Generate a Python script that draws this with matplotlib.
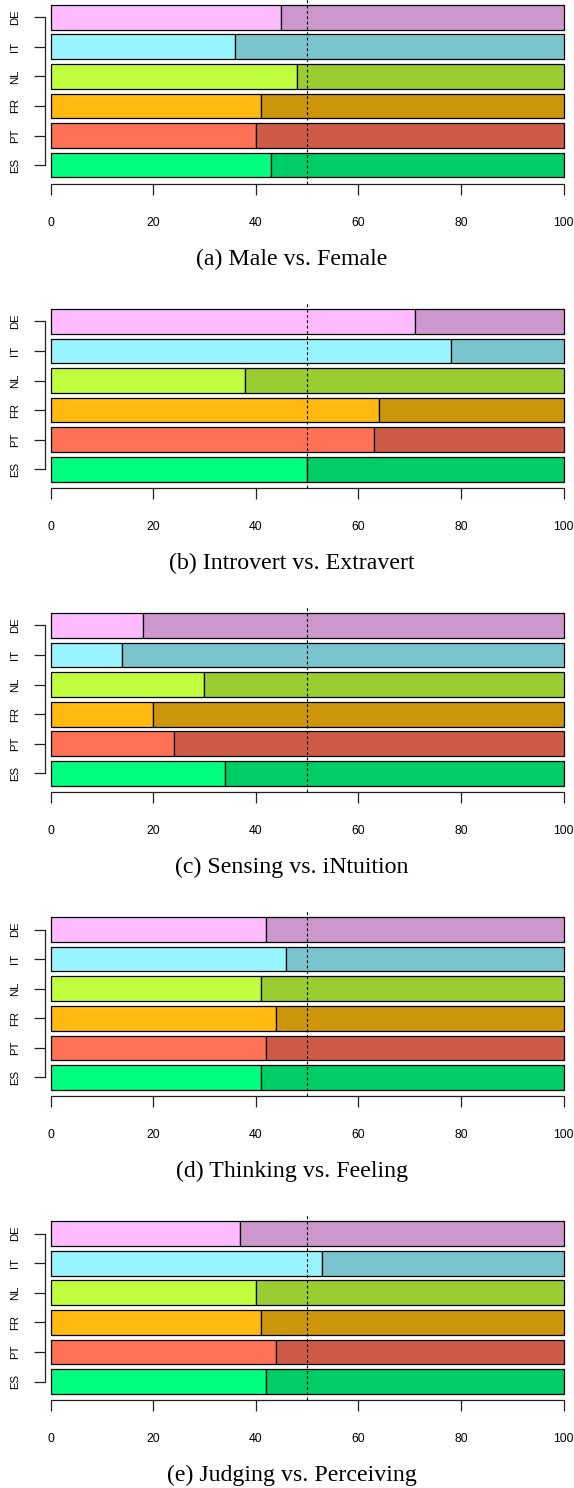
from matplotlib import pyplot as plt

# countries bottom to top, as in the barplot
COUNTRIES = ['ES', 'PT', 'FR', 'NL', 'IT', 'DE']

# share (%) of the first trait of each pair, per country
MALE = [43, 40, 41, 48, 36, 45]
INTROVERT = [50, 63, 64, 38, 78, 71]
SENSING = [34, 24, 20, 30, 14, 18]
THINKING = [41, 42, 44, 41, 46, 42]
JUDGING = [42, 44, 41, 40, 53, 37]

CAPTIONS = ['(a) Male vs. Female',
            '(b) Introvert vs. Extravert',
            '(c) Sensing vs. iNtuition',
            '(d) Thinking vs. Feeling',
            '(e) Judging vs. Perceiving']

X_TICKS = [0, 20, 40, 60, 80, 100]

LEFT_COLORS = ['#00FF7F', '#FF7256', '#FFB90F', '#C0FF3E', '#98F5FF', '#FFBBFF']
RIGHT_COLORS = ['#00CD66', '#CD5B45', '#CD950C', '#9ACD32', '#7AC5CD', '#CD96CD']

FIG_W, FIG_H = 574, 1488
DPI = 100

# pixel layout
AX_LEFT = 50.5
AX_RIGHT = 563.5
AX_HEIGHT = 186.4
FIRST_AXIS_Y = 184.0
PANEL_PITCH = 304.1
CAPTION_OFFSET = 75
CAPTION_X = 292

BAR_SPACE = 0.2


def draw_panel(fig, axis_y, values, caption):
    ax = fig.add_axes([AX_LEFT / FIG_W, 1 - axis_y / FIG_H,
                       (AX_RIGHT - AX_LEFT) / FIG_W, AX_HEIGHT / FIG_H])

    centers = [BAR_SPACE + 0.5 + i * (1 + BAR_SPACE) for i in range(len(COUNTRIES))]
    rest = [100 - v for v in values]

    ax.barh(centers, values, height=1.0, color=LEFT_COLORS,
            edgecolor='black', linewidth=0.9, clip_on=False, zorder=2)
    ax.barh(centers, rest, left=values, height=1.0, color=RIGHT_COLORS,
            edgecolor='black', linewidth=0.9, clip_on=False, zorder=2)

    ax.axvline(50, color='black', linewidth=0.8, linestyle=(0, (2.6, 2.2)), zorder=3)

    ax.set_xlim(0, 100)
    ax.set_ylim(-0.064, 7.496)

    ax.spines['top'].set_visible(False)
    ax.spines['right'].set_visible(False)
    ax.spines['left'].set_position(('outward', 5.5 * 72 / DPI))
    ax.spines['left'].set_bounds(centers[0], centers[-1])
    ax.spines['bottom'].set_bounds(0, 100)
    for side in ['left', 'bottom']:
        ax.spines[side].set_linewidth(0.9)
        ax.spines[side].set_color('#222222')

    ax.set_xticks(X_TICKS)
    ax.set_xticklabels([str(t) for t in X_TICKS], family='Liberation Sans', fontsize=8.8)
    ax.tick_params(axis='x', direction='out', length=8, width=0.9, pad=15.5, colors='#222222')
    for lab in ax.get_xticklabels():
        lab.set_color('black')

    ax.set_yticks(centers)
    ax.set_yticklabels(COUNTRIES, family='Liberation Sans', fontsize=8.2,
                       rotation=90, va='center')
    ax.tick_params(axis='y', direction='out', length=7.7, width=0.9, pad=10, colors='#222222')
    for lab in ax.get_yticklabels():
        lab.set_color('black')

    fig.text(CAPTION_X / FIG_W, 1 - (axis_y + CAPTION_OFFSET) / FIG_H, caption,
             ha='center', va='center', family='Liberation Serif', fontsize=17.2)


def main():
    fig = plt.figure(figsize=(FIG_W / DPI, FIG_H / DPI), dpi=DPI)

    panels = [MALE, INTROVERT, SENSING, THINKING, JUDGING]
    for k, values in enumerate(panels):
        axis_y = FIRST_AXIS_Y + k * PANEL_PITCH
        draw_panel(fig, axis_y, values, CAPTIONS[k])

    fig.savefig('out.png', dpi=DPI)


if __name__ == '__main__':
    main()
